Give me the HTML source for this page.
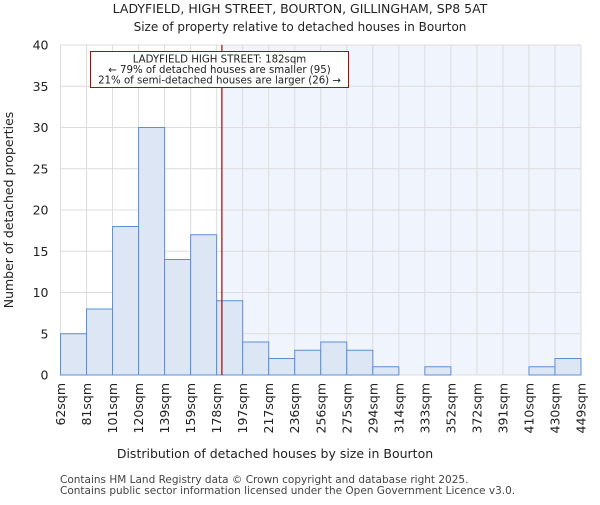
<!DOCTYPE html>
<html><head><meta charset="utf-8"><style>body{margin:0;background:#fff}svg{font-family:"DejaVu Sans","Liberation Sans",sans-serif}</style></head>
<body>
<svg width="600" height="500" viewBox="0 0 600 500">
<text x="300" y="13" text-anchor="middle" font-size="12.5" fill="#222">LADYFIELD, HIGH STREET, BOURTON, GILLINGHAM, SP8 5AT</text>
<text x="300" y="31" text-anchor="middle" font-size="12" fill="#222">Size of property relative to detached houses in Bourton</text>
<g id="plot"></g>
<text x="275" y="458" text-anchor="middle" font-size="12.5" fill="#222">Distribution of detached houses by size in Bourton</text>
<text transform="translate(13,210) rotate(-90)" text-anchor="middle" font-size="12.5" fill="#222">Number of detached properties</text>
<text x="60" y="483" font-size="10.5" fill="#444">Contains HM Land Registry data © Crown copyright and database right 2025.</text>
<text x="60" y="494" font-size="10.5" fill="#444">Contains public sector information licensed under the Open Government Licence v3.0.</text>
</svg>
<script>
const binLabels=["62sqm","81sqm","101sqm","120sqm","139sqm","159sqm","178sqm","197sqm","217sqm","236sqm","256sqm","275sqm","294sqm","314sqm","333sqm","352sqm","372sqm","391sqm","410sqm","430sqm","449sqm"];
const counts=[5,8,18,30,14,17,9,4,2,3,4,3,1,0,1,0,0,0,1,2];
const yTicks=[0,5,10,15,20,25,30,35,40];
const propertySize=182;
const binStart=62, binStep=19.35;
const L=60.5,R=581,T=45,B=375,yMax=40;
const bw=(R-L)/counts.length;
const xs=v=>L+(v-binStart)/binStep*bw;
const ys=v=>B-(v/yMax)*(B-T);
const NS="http://www.w3.org/2000/svg";
const g=document.getElementById('plot');
function mk(t,a){const e=document.createElementNS(NS,t);for(const k in a)e.setAttribute(k,a[k]);g.appendChild(e);return e;}
const px=xs(propertySize);
let e=mk('rect',{x:px,y:T,width:R-px,height:B-T,fill:'#f0f4fd'});


for(let i=0;i<=counts.length;i++){e=mk('line',{x1:L+i*bw,x2:L+i*bw,y1:T,y2:B,stroke:'#dcdcdc','stroke-width':1});

}
yTicks.forEach(v=>{e=mk('line',{x1:L,x2:R,y1:ys(v),y2:ys(v),stroke:'#dcdcdc','stroke-width':1});


e=mk('text',{x:L-12,y:ys(v)+4.5,'text-anchor':'end','font-size':12.5,fill:'#222'});e.textContent=v;

});
counts.forEach((c,i)=>{if(!c)return;e=mk('rect',{x:L+i*bw,y:ys(c),width:bw,height:B-ys(c),fill:'#dce6f5',stroke:'#5b8fd6','stroke-width':1});

});
binLabels.forEach((s,i)=>{const x=L+i*bw;e=mk('text',{transform:`translate(${x+4.5},383) rotate(-90)`,'text-anchor':'end','font-size':12.5,fill:'#222'});e.textContent=s;

});
e=mk('line',{x1:px,x2:px,y1:T,y2:B,stroke:'#b00000','stroke-width':1.2});


e=mk('rect',{x:90.5,y:51.5,width:258,height:36,fill:'#fff',stroke:'#c00000','stroke-width':1});


["LADYFIELD HIGH STREET: 182sqm","← 79% of detached houses are smaller (95)","21% of semi-detached houses are larger (26) →"].forEach((t,i)=>{e=mk('text',{x:219.5,y:62.5+i*10.5,'text-anchor':'middle','font-size':10.2,fill:'#222'});e.textContent=t;

});
</script>
</body></html>
